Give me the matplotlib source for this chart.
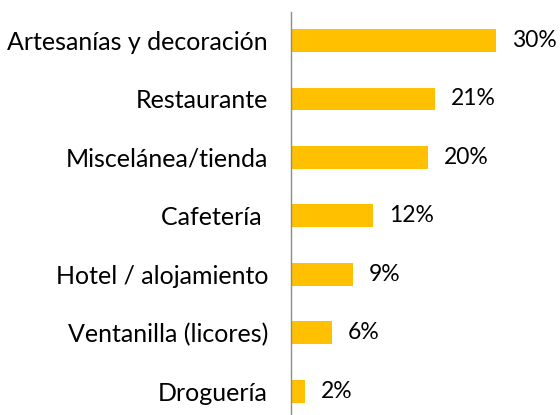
import matplotlib
matplotlib.use("Agg")
import matplotlib.pyplot as plt

categories = [
    "Artesanías y decoración",
    "Restaurante",
    "Miscelánea/tienda",
    "Cafetería ",
    "Hotel / alojamiento",
    "Ventanilla (licores)",
    "Droguería",
]
values = [30, 21, 20, 12, 9, 6, 2]
value_labels = ["30%", "21%", "20%", "12%", "9%", "6%", "2%"]

plt.rcParams["font.family"] = ["Lato", "DejaVu Sans"]

W, H = 560, 415
fig = plt.figure(figsize=(W / 100, H / 100), dpi=100)

# axes from the vertical line (x=291) to the end of the 30% bar (x=496)
x0, x1 = 291, 496
ytop, ybot = 12, 415
ax = fig.add_axes([x0 / W, 1 - ybot / H, (x1 - x0) / W, (ybot - ytop) / H])

pos = list(range(len(categories)))
ax.barh(pos, values, height=0.39, color="#FFC000")
ax.set_xlim(0, 30)
ax.set_ylim(6.405, -0.487)

for p, v, lab in zip(pos, values, value_labels):
    ax.annotate(lab, (v, p), xytext=(16, 0), textcoords="offset pixels",
                va="center", ha="left", fontsize=16.5, color="#000000",
                annotation_clip=False)

ax.set_yticks(pos)
ax.set_yticklabels(categories, fontsize=18)
ax.tick_params(axis="y", length=0, pad=16.5)
ax.set_xticks([])
for s in ["top", "right", "bottom"]:
    ax.spines[s].set_visible(False)
ax.spines["left"].set_color("#8c8c8c")
ax.spines["left"].set_linewidth(1.0)

fig.savefig("out.png", dpi=100)
